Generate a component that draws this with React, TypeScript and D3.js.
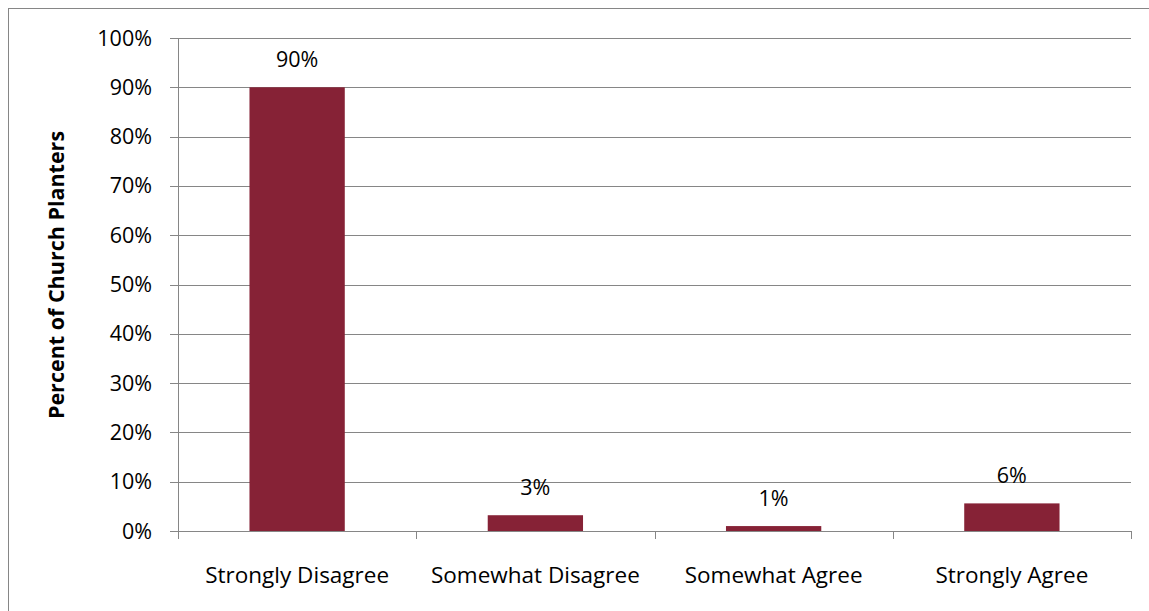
import React from "react";
import * as d3 from "d3";

const categories = ["Strongly Disagree", "Somewhat Disagree", "Somewhat Agree", "Strongly Agree"];
const values = [90, 3.2, 1.0, 5.6];
const labels = ["90%", "3%", "1%", "6%"];
const yTicks = [0, 10, 20, 30, 40, 50, 60, 70, 80, 90, 100];
const yTitle = "Percent of Church Planters";

const W = 1149, H = 611;
const left = 178, right = 1131, top = 38, bottom = 531;
const font = "'Open Sans', sans-serif";

export default function App() {
  const x = d3.scaleBand<string>().domain(categories).range([left, right]).paddingInner(0.6).paddingOuter(0.3);
  const xb = d3.scaleBand<string>().domain(categories).range([left, right]);
  const y = d3.scaleLinear().domain([0, 100]).range([bottom, top]);
  const grid = "#868686";
  return (
    <svg width={W} height={H} style={{ position: "absolute", left: 0, top: 0 }}>
      <rect x={0} y={0} width={W} height={H} fill="#fff" />
      <rect x={8.5} y={8.5} width={W + 10} height={H + 10} fill="none" stroke="#868686" strokeWidth={1} />
      {yTicks.map((t) => (
        <g key={t}>
          <line x1={170} x2={right} y1={Math.round(y(t)) + 0.5} y2={Math.round(y(t)) + 0.5} stroke={grid} strokeWidth={1} />
          <text x={152} y={y(t) + 7.5} textAnchor="end" fontFamily={font} fontSize={21.5} fill="#000">{t}%</text>
        </g>
      ))}
      <line x1={left + 0.5} x2={left + 0.5} y1={top} y2={bottom + 8} stroke={grid} />
      {[...categories.map((c) => xb(c) as number), right].map((v, i) => (
        <line key={i} x1={Math.round(v) + 0.5} x2={Math.round(v) + 0.5} y1={bottom} y2={bottom + 8} stroke={grid} />
      ))}
      {categories.map((c, i) => (
        <g key={c}>
          <rect x={x(c)} y={y(values[i])} width={x.bandwidth()} height={bottom - y(values[i])} fill="#862236" />
          <text x={(x(c) as number) + x.bandwidth() / 2} y={y(values[i]) - 20} textAnchor="middle" fontFamily={font} fontSize={21.5} fill="#000">{labels[i]}</text>
          <text x={(xb(c) as number) + xb.bandwidth() / 2} y={583} textAnchor="middle" fontFamily={font} fontSize={22.5} fill="#000">{c}</text>
        </g>
      ))}
      <text transform={`translate(64,275) rotate(-90)`} textAnchor="middle" fontFamily={font} fontSize={21.5} fontWeight="bold" fill="#000">{yTitle}</text>
    </svg>
  );
}
